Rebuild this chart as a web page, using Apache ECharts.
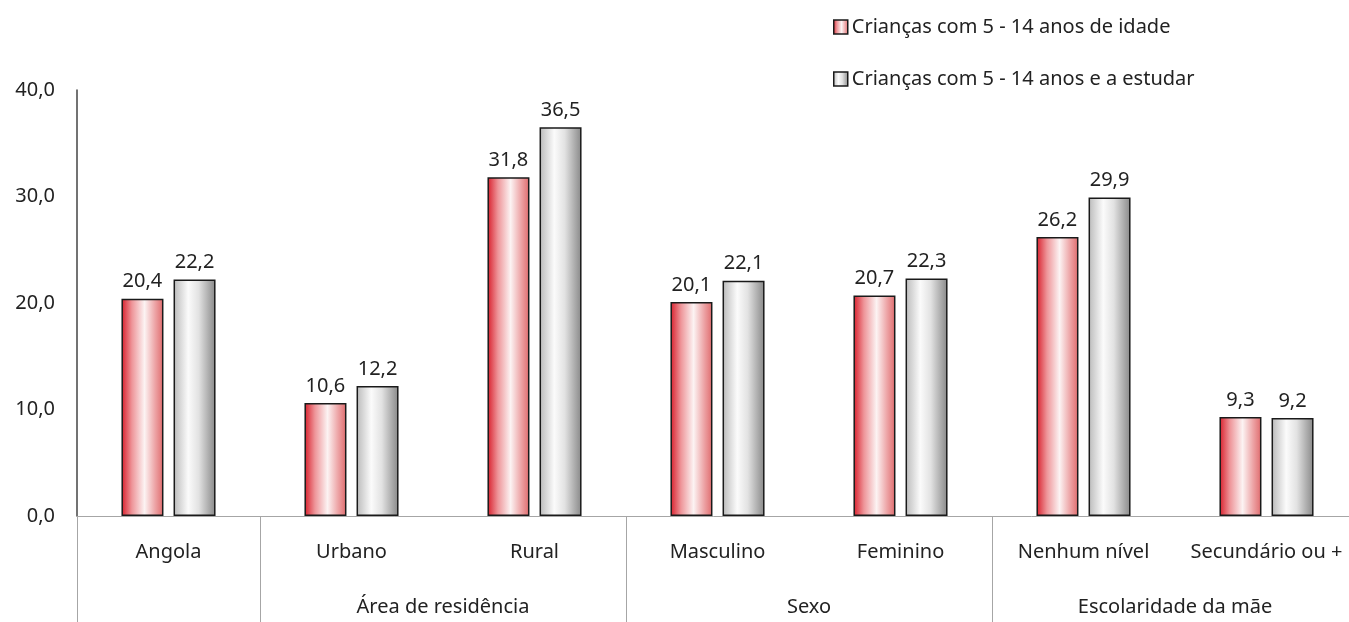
<!DOCTYPE html>
<html>
<head>
<meta charset="utf-8">
<script src="https://cdn.jsdelivr.net/npm/echarts@6/dist/echarts.min.js"></script>
<style>
	html, body { margin: 0; padding: 0; background: #fff; }
	#main { width: 1349px; height: 622px; }
</style>
</head>
<body>
<div id="main"></div>
<script>
// dados
var categorias = ['Angola', 'Urbano', 'Rural', 'Masculino', 'Feminino', 'Nenhum nível', 'Secundário ou +'];
var idade = [20.4, 10.6, 31.8, 20.1, 20.7, 26.2, 9.3];
var estudar = [22.2, 12.2, 36.5, 22.1, 22.3, 29.9, 9.2];
var seriesNames = ['Crianças com 5 - 14 anos de idade', 'Crianças com 5 - 14 anos e a estudar'];
var grupos = ['Área de residência', 'Sexo', 'Escolaridade da mãe'];
var gruposPos = [2, 4, 6];
var separadores = [0, 1, 3, 5, 7];
var yTicks = [0, 10, 20, 30, 40];

var fonte = '"Noto Sans", sans-serif';
var tam = 20;

function fmt(v) {
	return v.toFixed(1).replace('.', ',');
}

var gradVermelho = new echarts.graphic.LinearGradient(0, 0, 1, 0, [
	{ offset: 0, color: '#d81e2b' },
	{ offset: 0.25, color: '#ee9599' },
	{ offset: 0.55, color: '#fcf3f3' },
	{ offset: 0.8, color: '#eda4a6' },
	{ offset: 1, color: '#df6a6c' }
]);
var gradCinza = new echarts.graphic.LinearGradient(0, 0, 1, 0, [
	{ offset: 0, color: '#bababa' },
	{ offset: 0.35, color: '#fbfbfb' },
	{ offset: 0.6, color: '#e2e2e2' },
	{ offset: 1, color: '#888888' }
]);

var myChart = echarts.init(document.getElementById('main'));

var option = {
	animation: false,
	textStyle: { fontFamily: fonte },
	legend: {
		orient: 'vertical',
		left: 828,
		top: 12,
		itemGap: 32,
		itemWidth: 14,
		itemHeight: 14,
		itemStyle: { borderColor: '#1a1a1a', borderWidth: 1.5 },
		icon: 'rect',
		textStyle: { fontSize: tam, color: '#222', fontFamily: fonte, padding: [0, 0, 0, -1] },
		data: seriesNames
	},
	grid: {
		left: 77,
		top: 90,
		right: -9,
		bottom: 106,
		outerBoundsMode: 'none',
		containLabel: false
	},
	xAxis: [
		{
			type: 'category',
			data: categorias,
			axisLine: { lineStyle: { color: '#a6a6a6', width: 1 } },
			axisTick: { show: false },
			axisLabel: { fontSize: tam, color: '#222', margin: 26, interval: 0 }
		},
		{
			type: 'value',
			position: 'bottom',
			min: 0,
			max: 7,
			interval: 1,
			axisLine: { show: false },
			splitLine: { show: false },
			axisTick: {
				show: true,
				customValues: separadores,
				length: 106,
				lineStyle: { color: '#a6a6a6', width: 1 }
			},
			axisLabel: {
				customValues: gruposPos,
				fontSize: tam,
				color: '#222',
				margin: 81,
				formatter: function (v) {
					var i = gruposPos.indexOf(v);
					return i >= 0 ? grupos[i] : '';
				}
			}
		}
	],
	yAxis: {
		type: 'value',
		min: yTicks[0],
		max: yTicks[yTicks.length - 1],
		interval: 10,
		axisLine: { show: true, lineStyle: { color: '#444', width: 1.5 } },
		axisTick: { show: false },
		splitLine: { show: false },
		axisLabel: {
			fontSize: tam,
			color: '#222',
			margin: 22,
			formatter: function (v) { return fmt(v); }
		}
	},
	series: [
		{
			name: seriesNames[0],
			type: 'bar',
			data: idade,
			barWidth: 42,
			barGap: '24%',
			itemStyle: { color: gradVermelho, borderColor: '#1a1a1a', borderWidth: 1.5 },
			label: {
				show: true,
				position: 'top',
				distance: 7,
				fontSize: tam,
				color: '#222',
				formatter: function (p) { return fmt(p.value); }
			}
		},
		{
			name: seriesNames[1],
			type: 'bar',
			data: estudar,
			barWidth: 42,
			itemStyle: { color: gradCinza, borderColor: '#1a1a1a', borderWidth: 1.5 },
			label: {
				show: true,
				position: 'top',
				distance: 7,
				fontSize: tam,
				color: '#222',
				formatter: function (p) { return fmt(p.value); }
			}
		}
	]
};

myChart.setOption(option);
</script>
</body>
</html>
